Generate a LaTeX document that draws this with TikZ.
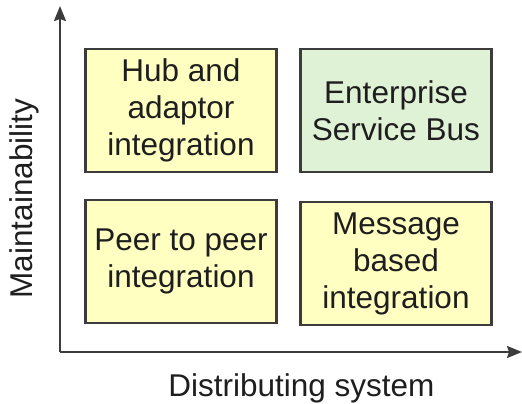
\documentclass[tikz,border=0pt]{standalone}
\usepackage{fontspec}
\setmainfont{Liberation Sans}
\usetikzlibrary{arrows.meta}
\definecolor{boxyellow}{HTML}{FFFFC2}
\definecolor{boxgreen}{HTML}{E0F2D6}
\definecolor{edge}{HTML}{3C3C3C}
\definecolor{txt}{HTML}{1E1E1E}
\begin{document}
\begin{tikzpicture}[x=1pt,y=-1pt,
  quad/.style={draw=edge,line width=2.2pt,minimum width=191pt,minimum height=123pt,
    align=center,inner sep=0pt,font=\fontsize{31.5}{37}\selectfont,text=txt},
  axis/.style={draw=edge,line width=2pt,-{Stealth[length=15pt,width=12pt,inset=2pt]}},
  lbl/.style={font=\fontsize{31.5}{36}\selectfont,text=txt}]
\useasboundingbox (0,0) rectangle (522,404);
\node[quad,fill=boxyellow] (hub) at (181,110.5) {Hub and\\adaptor\\integration};
\node[quad,fill=boxgreen] (esb) at (396,110.5) {Enterprise\\Service Bus};
\node[quad,fill=boxyellow] (p2p) at (181,261.5) {Peer to peer\\integration};
\node[quad,fill=boxyellow] (msg) at (396,263.5) {Message\\based\\integration};
\coordinate (origin) at (60,352);
\coordinate (ytip) at (60,6);
\coordinate (xtip) at (522,352);
\draw[axis] (origin) -- (ytip);
\draw[axis] (origin) -- (xtip);
\node[lbl,anchor=base] (xl) at (301.5,396) {Distributing system};
\node[lbl,rotate=90] (yl) at (24,198.5) {Maintainability};
\end{tikzpicture}
\end{document}
